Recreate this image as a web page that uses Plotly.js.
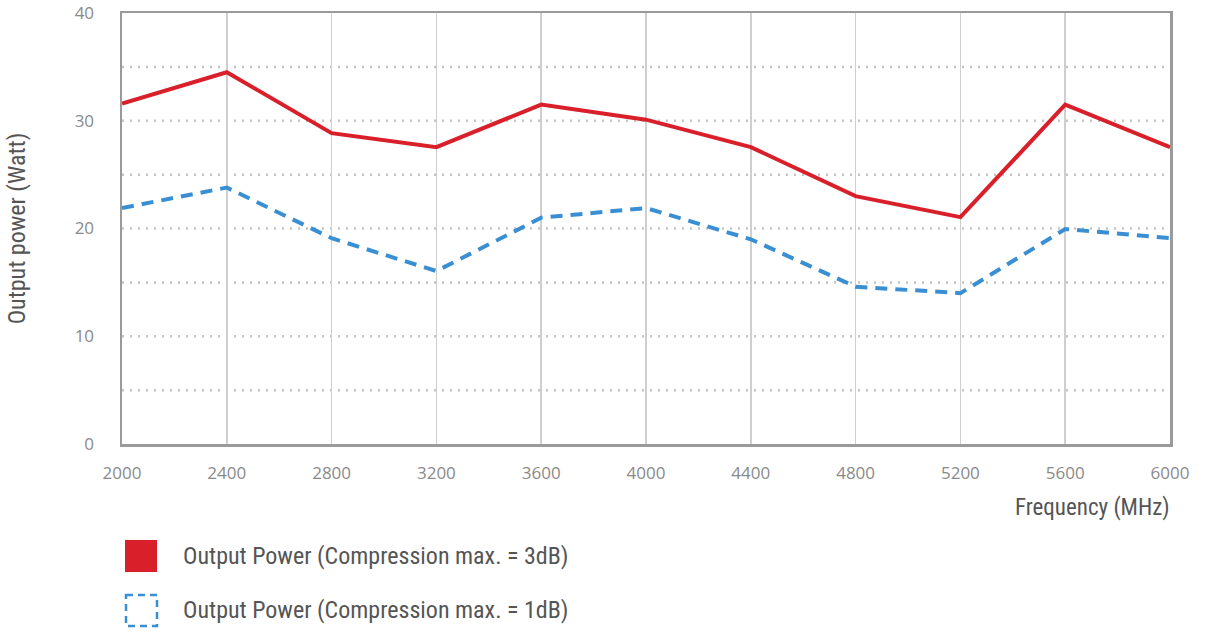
<!DOCTYPE html>
<html>
<head>
<meta charset="utf-8">
<script src="https://cdn.plot.ly/plotly-3.0.1.min.js"></script>
<style>
html,body{margin:0;padding:0;background:#fff;}
#chart{width:1205px;height:634px;}
</style>
</head>
<body>
<div id="chart"></div>
<script>
const frequency = [2000, 2400, 2800, 3200, 3600, 4000, 4400, 4800, 5200, 5600, 6000];
const power3dB = [31.6, 34.5, 28.85, 27.55, 31.5, 30.1, 27.55, 23.0, 21.05, 31.5, 27.55];
const power1dB = [21.9, 23.8, 19.1, 16.05, 21.0, 21.9, 19.0, 14.6, 14.0, 19.95, 19.1];
const xTickVals = [2000, 2400, 2800, 3200, 3600, 4000, 4400, 4800, 5200, 5600, 6000];
const yTickVals = [0, 10, 20, 30, 40];
const gridVals = [5, 10, 15, 20, 25, 30, 35];
const seriesNames = ['Output Power (Compression max. = 3dB)', 'Output Power (Compression max. = 1dB)'];
const xTitle = 'Frequency (MHz)';
const yTitle = 'Output power (Watt)';

const W = 1205, H = 634;
const M = {l: 122, r: 35, t: 13, b: 190};
const pw = W - M.l - M.r, ph = H - M.t - M.b;
const px = x => (x - M.l) / pw;
const py = y => (H - M.b - y) / ph;

const condensed = '"Roboto Condensed", Roboto, sans-serif';
const tickFont = {family: '"Open Sans", sans-serif', size: 17, color: '#8a8a8a'};
const RED = '#d9202a', BLUE = '#3a8fd3';

const traces = [
  {x: frequency, y: power3dB, type: 'scatter', mode: 'lines', name: seriesNames[0],
   line: {color: RED, width: 4}, showlegend: false},
  {x: frequency, y: power1dB, type: 'scatter', mode: 'lines', name: seriesNames[1],
   line: {color: BLUE, width: 4, dash: '12px,8px'}, showlegend: false}
];

const shapes = [];
gridVals.forEach(v => shapes.push({type: 'line', xref: 'paper', yref: 'y', x0: 0, x1: 1, y0: v, y1: v,
  line: {color: '#c4c4c4', width: 2.5, dash: '2px,6px'}, layer: 'below'}));
shapes.push({type: 'rect', xref: 'paper', yref: 'paper', x0: px(125), x1: px(157), y0: py(540), y1: py(572),
  fillcolor: RED, line: {width: 0}});
shapes.push({type: 'rect', xref: 'paper', yref: 'paper', x0: px(126), x1: px(157), y0: py(595), y1: py(626),
  fillcolor: 'rgba(0,0,0,0)', line: {color: BLUE, width: 2.5, dash: '7px,5px'}});

const annFont = {family: condensed, size: 24, color: '#555'};
const annotations = [
  {xref: 'paper', yref: 'paper', x: px(181), y: py(556), xanchor: 'left', yanchor: 'middle',
   text: seriesNames[0], showarrow: false, font: annFont},
  {xref: 'paper', yref: 'paper', x: px(181), y: py(610), xanchor: 'left', yanchor: 'middle',
   text: seriesNames[1], showarrow: false, font: annFont},
  {xref: 'paper', yref: 'paper', x: px(1172), y: py(507), xanchor: 'right', yanchor: 'middle',
   text: xTitle, showarrow: false, font: {family: condensed, size: 23, color: '#555'}}
];

const layout = {
  width: W, height: H,
  margin: M,
  paper_bgcolor: '#fff', plot_bgcolor: '#fff',
  showlegend: false,
  xaxis: {
    range: [2000, 6000], tickvals: xTickVals, ticktext: xTickVals.map(String),
    showgrid: true, gridcolor: '#cfcfcf', gridwidth: 1.5,
    zeroline: false, showline: true, linecolor: '#9a9a9a', linewidth: 2.5, mirror: true,
    ticks: 'outside', ticklen: 12, tickcolor: 'rgba(0,0,0,0)',
    tickfont: tickFont
  },
  yaxis: {
    range: [0, 40], tickvals: yTickVals,
    showgrid: false, zeroline: false, showline: true, linecolor: '#9a9a9a', linewidth: 2.5, mirror: true,
    ticks: 'outside', ticklen: 22, tickcolor: 'rgba(0,0,0,0)',
    tickfont: tickFont,
    title: {text: yTitle, font: {family: condensed, size: 24, color: '#555'}, standoff: 42}
  },
  shapes: shapes,
  annotations: annotations
};

Plotly.newPlot('chart', traces, layout, {displayModeBar: false, staticPlot: true});
</script>
</body>
</html>
